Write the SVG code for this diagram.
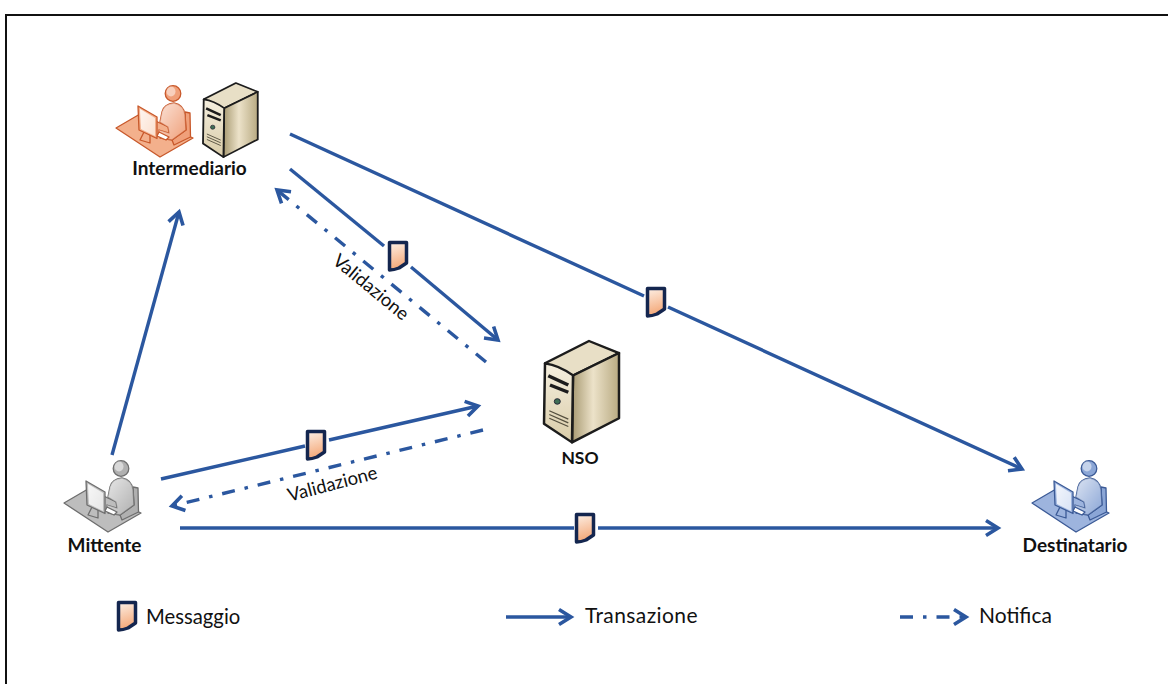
<svg xmlns="http://www.w3.org/2000/svg" width="1168" height="684" viewBox="0 0 1168 684">
<style>
text{font-family:Lato,"Liberation Sans",sans-serif;fill:#111}
.b{font-weight:700;font-size:19px;text-anchor:middle}
.l{font-size:21px}
.v{font-size:18.500px;text-anchor:middle}
.c{fill:none;stroke:#2b579f;stroke-width:3.400;stroke-linecap:butt}
.a{marker-end:url(#arrow)}
.n{stroke-dasharray:13 10 3.500 10}
.t{stroke:var(--d);stroke-width:1.300;stroke-linejoin:round}
.u{fill:url(#sh);stroke:none}
</style>
<defs>
<marker id="arrow" markerUnits="userSpaceOnUse" markerWidth="20" markerHeight="20" refX="15" refY="10" orient="auto" overflow="visible">
<path d="M3,2.500 L15,10 L3,17.500" fill="none" stroke="#2b579f" stroke-width="3.600"/>
</marker>
<linearGradient id="msg" x1="0" y1="0" x2="0.2" y2="1"><stop offset="0" stop-color="#fdf0e6"/><stop offset="1" stop-color="#f4a878"/></linearGradient>
<linearGradient id="sh" x1="0" y1="0" x2="1" y2="1"><stop offset="0" stop-color="#fff" stop-opacity=".7"/><stop offset="1" stop-color="#fff" stop-opacity="0"/></linearGradient>
<linearGradient id="front" x1="0" y1="0" x2="0" y2="1"><stop offset="0" stop-color="#f5efdf"/><stop offset="1" stop-color="#d9cca8"/></linearGradient>
<linearGradient id="side" x1="0" y1="0" x2="1" y2="0"><stop offset="0" stop-color="#a89a72"/><stop offset=".45" stop-color="#ece2c9"/><stop offset="1" stop-color="#b8aa82"/></linearGradient>
<symbol id="m" overflow="visible" viewBox="0 0 22 33" width="22" height="33">
<path d="M2.500,2.500 H19.500 V23 Q15,26 12,28 Q7,30 2.500,30 Z" fill="url(#msg)" stroke="#14264f" stroke-width="3.500" stroke-linejoin="round"/>
</symbol>
<g id="person">
<path d="M14,53 L38,39 L91,63 L58,82 Z" style="fill:var(--f)" class="t"/>
<path d="M83,37 L88,38 L88.500,62 L72,70 L70,65 L84,55 Z" style="fill:var(--m)" class="t"/>
<path d="M60,37 Q62,29 72,28 Q82,30 83,40 L84,55 L70,65 L58,63 L57,55 L67,58 L66,52 L58,47 Z" style="fill:var(--m)" class="t"/>
<path d="M60,37 Q62,29 72,28 Q82,30 83,40 L84,55 L70,65 L58,63 L57,55 L67,58 L66,52 L58,47 Z" class="u"/>
<path d="M57,57 L67,62 L64,65 L55,61 Z" fill="#fff" class="t"/>
<circle cx="71" cy="18.500" r="7.800" style="fill:var(--m)" class="t"/>
<ellipse cx="69" cy="16.500" rx="4.500" ry="5" fill="#fff" opacity=".5"/>
<path d="M43,55 L38,65 L48,68 L48,60 Z" style="fill:var(--f)" class="t"/>
<path d="M36,31 L55,42 L55,63.500 L37,55 Z" style="fill:var(--f)" class="t"/>
<path d="M38,34 L53,43 L53,61 L39,54 Z" style="fill:var(--l)"/>
<path d="M38,34 L53,43 L53,61 L39,54 Z" class="u"/>
</g>
<g id="server">
<path d="M1,24 L45,0 L75,13 L29,37 Z" fill="#e8dfc6" stroke="#1c1c1c" stroke-width="2.500" stroke-linejoin="round"/>
<path d="M29,37 L75,13 L75,83 L28,109 Z" fill="url(#side)" stroke="#1c1c1c" stroke-width="2.500" stroke-linejoin="round"/>
<path d="M1,24 Q15,26 29,37 L28,109 L0,89 Z" fill="url(#front)" stroke="#1c1c1c" stroke-width="2.500" stroke-linejoin="round"/>
<path d="M4.300,37.300 L24.300,47.300 M6,47.300 L24.300,55" stroke="#1c1c1c" stroke-width="3.500" fill="none"/>
<circle cx="13.300" cy="65" r="3" fill="#3f6e55" stroke="#223" stroke-width="1"/>
<path d="M5.300,75 L24.300,84 M5.300,79 L24.300,88 M5.300,83 L24.300,92" stroke="#55503f" stroke-width="1.300" fill="none"/>
</g>
</defs>
<rect x="0" y="0" width="1168" height="684" fill="#fff"/>
<path id="frame" d="M6,684 V15 H1168" fill="none" stroke="#111" stroke-width="2"/>
<g id="connectors">
<path class="c a" d="M112,455 L179,212"/>
<path class="c" d="M290,134 L644,296"/>
<path class="c a" d="M668,307 L1022,469"/>
<path class="c" d="M290,169 L384,246"/>
<path class="c a" d="M411,267 L498,340"/>
<path class="c n a" d="M486,362 L277,190"/>
<path class="c" d="M161,479 L305,446"/>
<path class="c a" d="M329,440 L478,406"/>
<path class="c n a" d="M483,430 L172,506"/>
<path class="c" d="M180,528 L574,528"/>
<path class="c a" d="M598,528 L998,528"/>
<path class="c a" d="M506,617 L571,617"/>
<path class="c n a" d="M900,617 L966,617"/>
</g>
<g id="intermediario">
<use href="#person" transform="translate(102,75)" style="--d:#c8582a;--f:#f3b08c;--m:#f0a07a;--l:#fbe0cf"/>
<use href="#server" transform="translate(203,83) scale(.73,.68)"/>
<text class="b" x="189.500" y="175">Intermediario</text>
</g>
<g id="nso">
<use href="#server" transform="translate(544,341) scale(1,.93)"/>
<text class="b" style="font-size:17.500px" x="580" y="464">NSO</text>
</g>
<g id="mittente">
<use href="#person" transform="translate(50,450)" style="--d:#6e6e6e;--f:#bdbdbd;--m:#b0b0b0;--l:#e6e6e6"/>
<text class="b" x="104.500" y="552">Mittente</text>
</g>
<g id="destinatario">
<use href="#person" transform="translate(1018,450)" style="--d:#3b5a96;--f:#9db4de;--m:#8ba6d6;--l:#d9e3f5"/>
<text class="b" x="1075" y="552">Destinatario</text>
</g>
<g id="messages">
<use href="#m" x="387" y="240"/>
<use href="#m" x="645" y="286"/>
<use href="#m" x="305" y="429"/>
<use href="#m" x="574" y="512"/>
</g>
<text class="v" transform="translate(367,292) rotate(39.500)">Validazione</text>
<text class="v" transform="translate(334,490) rotate(-14.700)">Validazione</text>
<g id="legend">
<use href="#m" x="116" y="600"/>
<text class="l" style="font-size:20.300px" x="146" y="624">Messaggio</text>
<text class="l" style="letter-spacing:.4px" x="585" y="623">Transazione</text>
<text class="l" x="979" y="623">Notifica</text>
</g>
</svg>
